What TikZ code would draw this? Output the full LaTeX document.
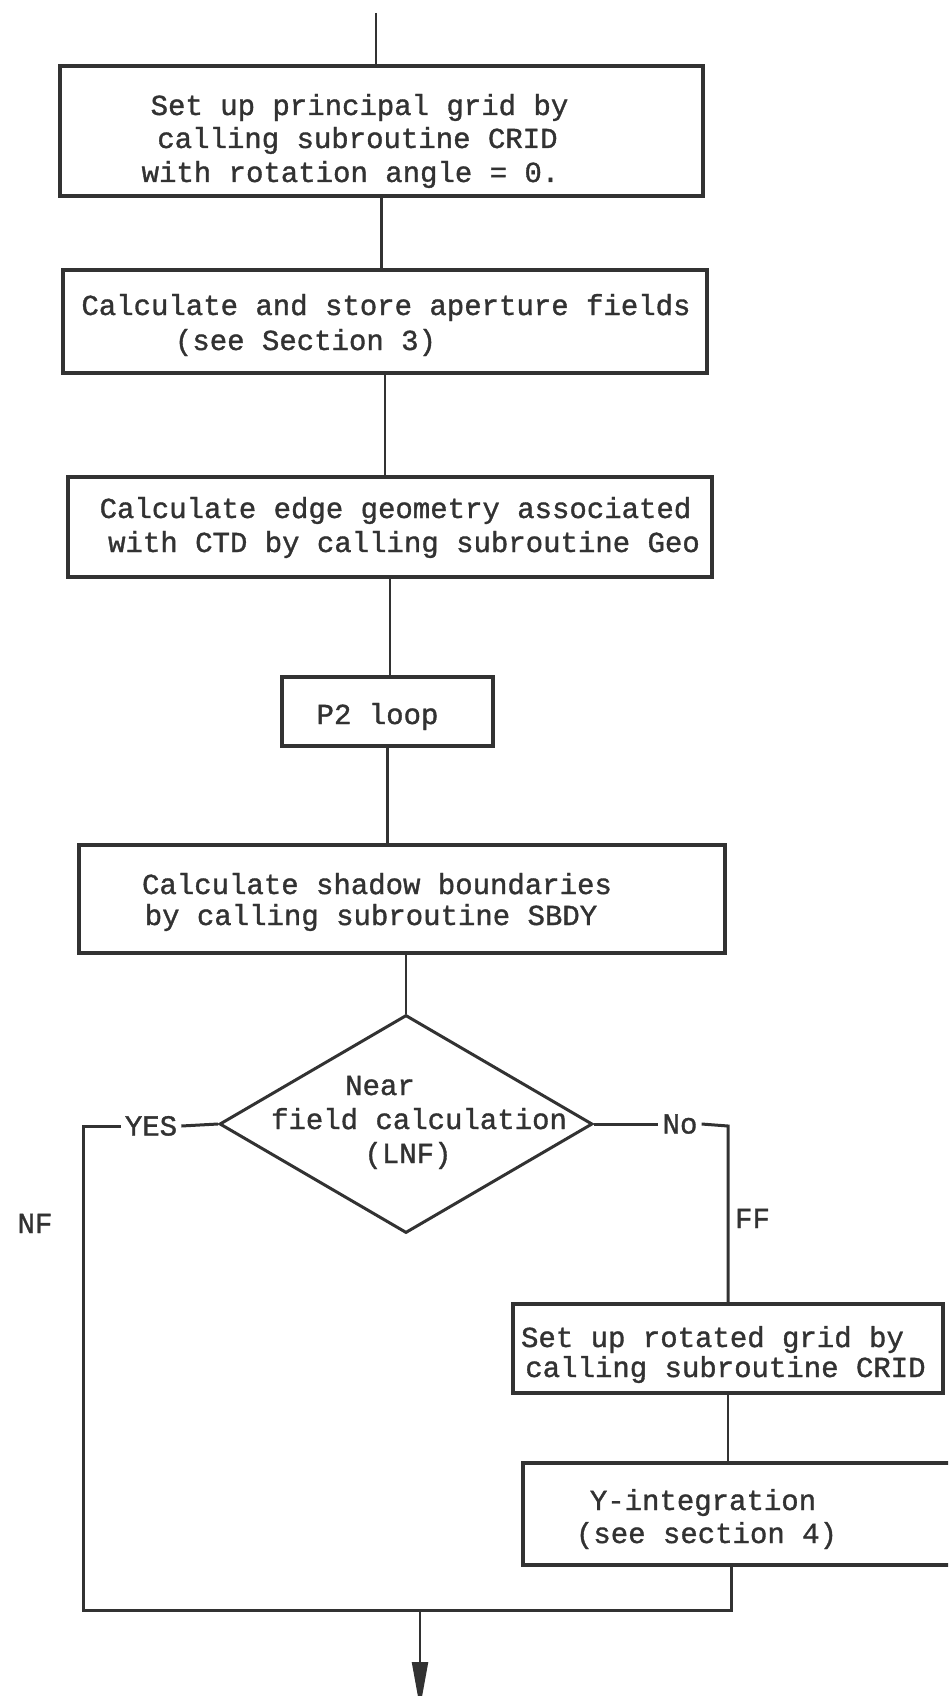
\documentclass[tikz,border=0pt]{standalone}
\usepackage{fontspec}
\setmonofont[FakeBold=1.2]{Liberation Mono}
\usetikzlibrary{shapes.geometric,arrows.meta,calc}
\definecolor{ink}{RGB}{50,50,50}
\begin{document}
\begin{tikzpicture}[x=1pt,y=-1pt,
  box/.style={draw=ink, line width=3.4pt, rectangle, inner sep=0pt},
  decision/.style={draw=ink, line width=3pt, diamond, inner sep=0pt},
  conn/.style={draw=ink, line width=2.2pt},
  loopline/.style={draw=ink, line width=3pt},
  txt/.style={font=\fontsize{29}{33}\selectfont\ttfamily, text=ink, inner sep=0pt, anchor=base},
  lbl/.style={font=\fontsize{29}{33}\selectfont\ttfamily, text=ink, inner xsep=4pt, inner ysep=0pt,
              text height=19pt, text depth=0pt, anchor=center}]
\useasboundingbox (0,0) rectangle (948,1696);
\clip (0,0) rectangle (948,1696);

% process boxes
\node[box, minimum width=643pt, minimum height=130pt] (b1) at (381.5,131) {};
\node[box, minimum width=644pt, minimum height=103pt] (b2) at (385,321.5) {};
\node[box, minimum width=644pt, minimum height=100pt] (b3) at (390,527) {};
\node[box, minimum width=211pt, minimum height=69pt]  (b4) at (387.5,711.5) {};
\node[box, minimum width=646pt, minimum height=108pt] (b5) at (402,899) {};
\node[decision, minimum width=373pt, minimum height=218pt] (d) at (406,1124) {};
\node[box, minimum width=430pt, minimum height=89pt]  (b6) at (728,1348.5) {};
\node[box, minimum width=457pt, minimum height=102pt] (b7) at (751.5,1514) {};

% box texts
\node[txt] (t1a) at (359.5,115) {Set up principal grid by};
\node[txt] (t1b) at (357.5,148) {calling subroutine CRID};
\node[txt] (t1c) at (350.5,182) {with rotation angle = 0.};
\node[txt] (t2a) at (386,315) {Calculate and store aperture fields};
\node[txt] (t2b) at (305.5,350) {(see Section 3)};
\node[txt] (t3a) at (395.5,518) {Calculate edge geometry associated};
\node[txt] (t3b) at (404,552) {with CTD by calling subroutine Geo};
\node[txt] (t4)  at (377.5,724) {P2 loop};
\node[txt] (t5a) at (377,894) {Calculate shadow boundaries};
\node[txt] (t5b) at (371,925) {by calling subroutine SBDY};
\node[txt] (tda) at (380,1095) {Near};
\node[txt] (tdb) at (419,1129) {field calculation};
\node[txt] (tdc) at (408,1163) {(LNF)};
\node[txt] (t6a) at (712.5,1347) {Set up rotated grid by};
\node[txt] (t6b) at (725.5,1377) {calling subroutine CRID};
\node[txt] (t7a) at (703,1510) {Y-integration};
\node[txt] (t7b) at (706.5,1543) {(see section 4)};

% branch labels
\node[lbl] (yes) at (151,1126) {YES};
\node[lbl] (no)  at (680,1124) {No};
\node[txt] (nf)  at (35,1233) {NF};
\node[txt] (ff)  at (752.5,1228) {FF};

% free ends and corners
\coordinate (start) at (376,13);
\coordinate (nfc) at (83,1126);
\coordinate (nfb) at (83,1610);
\coordinate (ffb) at (731,1610);
\coordinate (ffc) at (728,1126);
\coordinate (outp) at (420,1610);
\coordinate (endp) at (420,1708);

% main sequence
\draw[conn] (start) -- (start |- b1.north);
\draw[conn] (b1.south) -- (b1.south |- b2.north);
\draw[conn] (b2.south) -- (b2.south |- b3.north);
\draw[conn] (b3.south) -- (b3.south |- b4.north);
\draw[conn] (b4.south) -- (b4.south |- b5.north);
\draw[conn] (d.north |- b5.south) -- (d.north);

% near-field branch
\draw[loopline] (d.west) -- (yes.east);
\draw[loopline] (yes.west) -- (nfc) -- (nfb) -- (ffb) -- (ffb |- b7.south);

% far-field branch
\draw[loopline] (d.east) -- (no.west);
\draw[loopline] (no.east) -- (ffc) -- (ffc |- b6.north);
\draw[conn] (b6.south) -- (b6.south |- b7.north);

% exit
\draw[conn, -{Triangle[length=46pt,width=16pt]}] (outp) -- (endp);
\end{tikzpicture}
\end{document}
